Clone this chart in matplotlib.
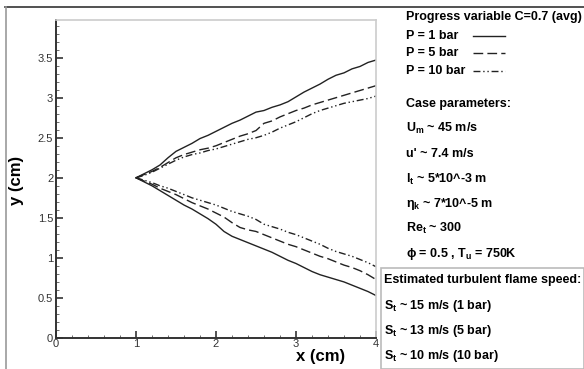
import matplotlib
matplotlib.use("Agg")
import matplotlib.pyplot as plt
from matplotlib.lines import Line2D
from matplotlib.patches import Rectangle
from matplotlib.ticker import MultipleLocator

plt.rcParams['font.family'] = ['Liberation Sans', 'DejaVu Sans']
plt.rcParams['mathtext.fontset'] = 'custom'
plt.rcParams['mathtext.rm'] = 'Liberation Sans:bold'
plt.rcParams['mathtext.it'] = 'Liberation Sans:bold'
plt.rcParams['mathtext.bf'] = 'Liberation Sans:bold'

# flame brush edge (C=0.7), x in cm
x = [1.0, 1.1, 1.2, 1.3, 1.4, 1.5, 1.6, 1.7, 1.8, 1.9, 2.0, 2.1, 2.2, 2.3, 2.4, 2.5,
     2.6, 2.7, 2.8, 2.9, 3.0, 3.1, 3.2, 3.3, 3.4, 3.5, 3.6, 3.7, 3.8, 3.9, 4.0]

upper_1bar = [2.00, 2.05, 2.10, 2.16, 2.25, 2.33, 2.38, 2.43, 2.49, 2.53, 2.58, 2.63, 2.68, 2.72, 2.77, 2.82,
              2.84, 2.88, 2.91, 2.95, 3.01, 3.07, 3.12, 3.17, 3.23, 3.28, 3.31, 3.36, 3.39, 3.44, 3.47]
upper_5bar = [2.00, 2.04, 2.08, 2.13, 2.19, 2.25, 2.29, 2.32, 2.35, 2.37, 2.40, 2.44, 2.48, 2.52, 2.55, 2.59,
              2.68, 2.71, 2.76, 2.80, 2.84, 2.87, 2.91, 2.94, 2.97, 3.00, 3.03, 3.06, 3.09, 3.12, 3.15]
upper_10bar = [2.00, 2.03, 2.07, 2.12, 2.17, 2.22, 2.26, 2.29, 2.31, 2.34, 2.36, 2.39, 2.42, 2.45, 2.48, 2.50,
               2.53, 2.57, 2.62, 2.66, 2.70, 2.75, 2.80, 2.84, 2.87, 2.90, 2.93, 2.95, 2.97, 2.99, 3.02]

lower_1bar = [2.00, 1.95, 1.90, 1.84, 1.78, 1.72, 1.66, 1.61, 1.55, 1.49, 1.42, 1.33, 1.27, 1.23, 1.19, 1.15,
              1.11, 1.07, 1.02, 0.97, 0.93, 0.88, 0.83, 0.79, 0.76, 0.73, 0.70, 0.66, 0.62, 0.58, 0.53]
lower_5bar = [2.00, 1.96, 1.92, 1.87, 1.83, 1.79, 1.74, 1.69, 1.65, 1.61, 1.56, 1.51, 1.44, 1.38, 1.35, 1.33,
              1.29, 1.25, 1.21, 1.17, 1.14, 1.10, 1.06, 1.02, 0.99, 0.95, 0.91, 0.88, 0.84, 0.79, 0.73]
lower_10bar = [2.00, 1.97, 1.94, 1.90, 1.87, 1.83, 1.79, 1.75, 1.72, 1.69, 1.66, 1.62, 1.58, 1.55, 1.52, 1.48,
               1.42, 1.39, 1.36, 1.32, 1.29, 1.25, 1.21, 1.17, 1.12, 1.08, 1.05, 1.02, 0.98, 0.94, 0.89]

legend_labels = ["P = 1 bar", "P = 5 bar", "P = 10 bar"]
params = ["Case parameters:",
          "U$_\\mathrm{m}$ ~ 45 m/s",
          "u' ~ 7.4 m/s",
          "l$_\\mathrm{t}$ ~ 5*10^-3 m",
          "$\\eta_\\mathrm{k}$ ~ 7*10^-5 m",
          "Re$_\\mathrm{t}$ ~ 300",
          "$\\phi$ = 0.5 , T$_\\mathrm{u}$ = 750K"]
speeds = ["Estimated turbulent flame speed:",
          "S$_\\mathrm{t}$ ~ 15 m/s (1 bar)",
          "S$_\\mathrm{t}$ ~ 13 m/s (5 bar)",
          "S$_\\mathrm{t}$ ~ 10 m/s (10 bar)"]

W, H = 584, 369
fig = plt.figure(figsize=(W / 100, H / 100), dpi=100)
fig.patch.set_facecolor('white')

def fx(px):
    return px / W

def fy(py):
    return 1 - py / H

# outer frame
fig.add_artist(Line2D([fx(5), 1], [fy(7), fy(7)], color='#333333', lw=1.2))
fig.add_artist(Line2D([fx(6), fx(6)], [fy(7), 0], color='#999999', lw=1.2))

ax = fig.add_axes([fx(56), fy(338), fx(376) - fx(56), fy(20) - fy(338)])
styles = ['-', (0, (7, 3)), (0, (5, 2, 1, 2, 1, 2))]
for yu, yl, ls in zip([upper_1bar, upper_5bar, upper_10bar],
                      [lower_1bar, lower_5bar, lower_10bar], styles):
    ax.plot(x, yu, color='#222222', lw=1.0, linestyle=ls)
    ax.plot(x, yl, color='#222222', lw=1.0, linestyle=ls)

ax.set_xlim(0, 4)
ax.set_ylim(0, 3.97)
ax.xaxis.set_minor_locator(MultipleLocator(0.2))
ax.yaxis.set_minor_locator(MultipleLocator(0.1))
ax.set_xticks([0, 1, 2, 3, 4])
ax.set_xticklabels(["0", "1", "2", "3", "4"])
ax.set_yticks([0, 0.5, 1, 1.5, 2, 2.5, 3, 3.5])
ax.set_yticklabels(["0", "0.5", "1", "1.5", "2", "2.5", "3", "3.5"])
ax.tick_params(which='major', direction='in', length=5, width=1.2, labelsize=8,
               colors='#333333', pad=2)
ax.tick_params(axis='x', which='major', pad=1)
ax.tick_params(which='minor', direction='in', length=2.5, width=0.6, colors='#555555')
for s in ['left', 'bottom']:
    ax.spines[s].set_color('#333333')
    ax.spines[s].set_linewidth(1.4)
for s in ['top', 'right']:
    ax.spines[s].set_color('#cccccc')
    ax.spines[s].set_linewidth(1.2)

fig.text(fx(321), fy(356), "x (cm)", fontsize=12, fontweight='bold', ha='center', va='center')
fig.text(fx(17), fy(180), "y (cm)", fontsize=12, fontweight='bold', ha='center', va='center',
         rotation=90)

# right panel
fs = 9
fig.text(fx(406), fy(17), "Progress variable C=0.7 (avg)", fontsize=fs, fontweight='bold',
         va='center', ha='left')
for lab, ls, py in zip(legend_labels, styles, [36, 53, 71]):
    fig.text(fx(406), fy(py), lab, fontsize=fs, fontweight='bold', va='center', ha='left')
    fig.add_artist(Line2D([fx(473), fx(505)], [fy(py), fy(py)], color='#222222', lw=1.0,
                          linestyle=ls))
for txt, py in zip(params, [104, 128, 154, 179, 204, 228, 254]):
    fig.text(fx(406), fy(py), txt, fontsize=fs, fontweight='bold', va='center', ha='left')

fig.add_artist(Rectangle((fx(381), 0), 1 - fx(381), fy(268), transform=fig.transFigure,
                         fill=False, edgecolor='#bbbbbb', lw=1.2))
for txt, py in zip(speeds, [280, 306, 331, 356]):
    fig.text(fx(384), fy(py), txt, fontsize=fs, fontweight='bold', va='center', ha='left')

fig.savefig("out.png", dpi=100)
